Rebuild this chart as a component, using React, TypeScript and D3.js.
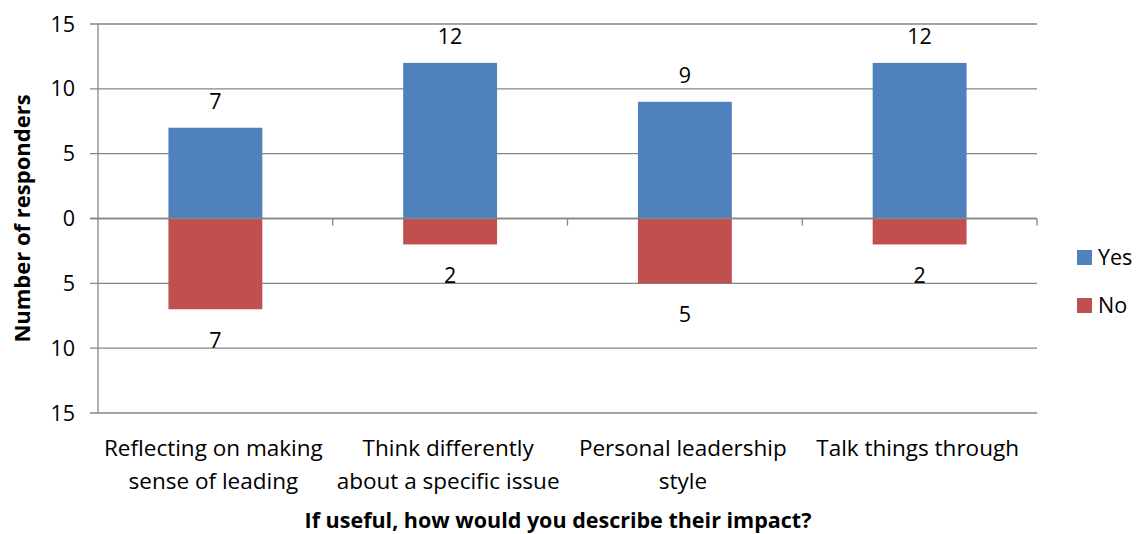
import React, { useRef, useEffect } from 'react';
import * as d3 from 'd3';

const categories = [
  ['Reflecting on making', 'sense of leading'],
  ['Think differently', 'about a specific issue'],
  ['Personal leadership', 'style'],
  ['Talk things through'],
];
const yesValues = [7, 12, 9, 12];
const noValues = [7, 2, 5, 2];
const yTicks = [15, 10, 5, 0, -5, -10, -15];
const seriesNames = ['Yes', 'No'];
const seriesColors = ['#4f81bd', '#c0504d'];

const W = 1141;
const H = 534;
const FONT = 'Open Sans, sans-serif';
const FS = 21.5;

const App = () => {
  const svgRef = useRef<SVGSVGElement>(null);

  useEffect(() => {
    const svg = d3.select(svgRef.current);
    svg.selectAll('*').remove();

    const left = 98, right = 1037, top = 24, bottom = 413;
    const x = d3.scaleBand().domain(categories.map((_, i) => String(i))).range([left, right]).paddingInner(0.6).paddingOuter(0.3);
    const band = d3.scaleBand().domain(categories.map((_, i) => String(i))).range([left, right]);
    const y = d3.scaleLinear().domain([-15, 15]).range([bottom, top]);
    const grid = '#868686';

    // gridlines + y ticks
    svg.append('g').selectAll('line').data(yTicks).enter().append('line')
      .attr('x1', left - 8).attr('x2', right)
      .attr('y1', d => y(d)).attr('y2', d => y(d))
      .attr('stroke', grid).attr('stroke-width', 1.3);

    svg.append('g').selectAll('text').data(yTicks).enter().append('text')
      .attr('x', 75).attr('y', d => y(d)).attr('dy', '0.35em')
      .attr('text-anchor', 'end').attr('font-family', FONT).attr('font-size', FS)
      .text(d => Math.abs(d));

    // bars
    const g = svg.append('g');
    g.selectAll('.yes').data(yesValues).enter().append('rect')
      .attr('x', (_, i) => x(String(i))!).attr('width', x.bandwidth())
      .attr('y', d => y(d)).attr('height', d => y(0) - y(d)).attr('fill', seriesColors[0]);
    g.selectAll('.no').data(noValues).enter().append('rect')
      .attr('x', (_, i) => x(String(i))!).attr('width', x.bandwidth())
      .attr('y', y(0)).attr('height', d => y(-d) - y(0)).attr('fill', seriesColors[1]);

    // axis lines
    svg.append('line').attr('x1', left).attr('x2', left).attr('y1', top).attr('y2', bottom)
      .attr('stroke', grid).attr('stroke-width', 1.3);
    svg.append('line').attr('x1', left - 8).attr('x2', right).attr('y1', y(0)).attr('y2', y(0))
      .attr('stroke', grid).attr('stroke-width', 1.6);
    svg.append('g').selectAll('line').data(d3.range(1, categories.length + 1)).enter().append('line')
      .attr('x1', i => left + band.step() * i).attr('x2', i => left + band.step() * i)
      .attr('y1', y(0)).attr('y2', y(0) + 7).attr('stroke', grid).attr('stroke-width', 1.3);

    // value labels
    svg.append('g').selectAll('text').data(yesValues).enter().append('text')
      .attr('x', (_, i) => x(String(i))! + x.bandwidth() / 2).attr('y', d => y(d) - 26)
      .attr('text-anchor', 'middle').attr('font-family', FONT).attr('font-size', FS)
      .attr('dy', '0.35em').text(d => d);
    svg.append('g').selectAll('text').data(noValues).enter().append('text')
      .attr('x', (_, i) => x(String(i))! + x.bandwidth() / 2).attr('y', d => y(-d) + 31)
      .attr('text-anchor', 'middle').attr('font-family', FONT).attr('font-size', FS)
      .attr('dy', '0.35em').text(d => d);

    // category labels
    const cat = svg.append('g');
    categories.forEach((lines, i) => {
      lines.forEach((t, j) => {
        cat.append('text')
          .attr('x', band(String(i))! + band.bandwidth() / 2 - 2).attr('y', 448 + j * 33)
          .attr('dy', '0.35em').attr('text-anchor', 'middle')
          .attr('font-family', FONT).attr('font-size', 22.5).text(t);
      });
    });

    // axis titles
    svg.append('text').attr('transform', `translate(22,${y(0)}) rotate(-90)`)
      .attr('text-anchor', 'middle').attr('dy', '0.35em')
      .attr('font-family', FONT).attr('font-weight', 'bold').attr('font-size', 22)
      .text('Number of responders');
    svg.append('text').attr('x', 558).attr('y', 520).attr('dy', '0.35em')
      .attr('text-anchor', 'middle').attr('font-family', FONT).attr('font-weight', 'bold').attr('font-size', 21.5)
      .text('If useful, how would you describe their impact?');

    // legend
    const lg = svg.append('g');
    seriesNames.forEach((n, i) => {
      lg.append('rect').attr('x', 1077).attr('y', 250 + i * 48).attr('width', 15).attr('height', 15)
        .attr('fill', seriesColors[i]);
      lg.append('text').attr('x', 1098).attr('y', 257.5 + i * 48).attr('dy', '0.35em')
        .attr('font-family', FONT).attr('font-size', FS).text(n);
    });
  }, []);

  return <svg ref={svgRef} width={W} height={H} style={{ display: 'block', position: 'absolute', left: 0, top: 0 }} />;
};

export default App;
